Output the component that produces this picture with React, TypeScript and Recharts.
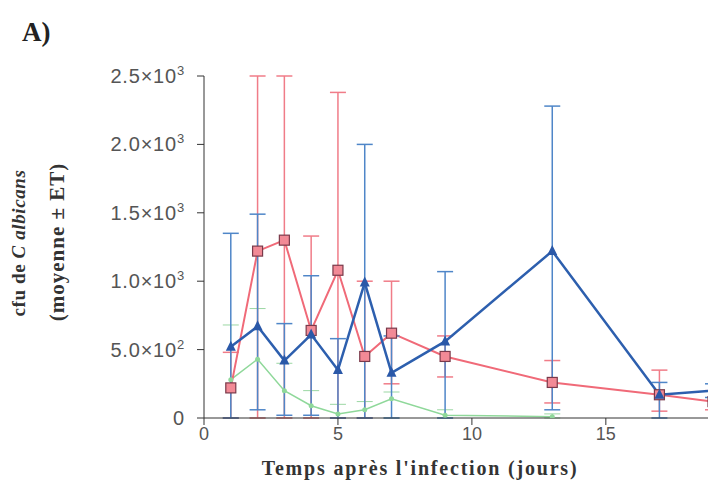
import React from 'react';
import { ComposedChart, Line, XAxis, YAxis, ErrorBar } from 'recharts';

const days = [1, 2, 3, 4, 5, 6, 7, 9, 13, 17, 19];

const red = [220, 1220, 1300, 640, 1080, 450, 620, 450, 260, 170, 120];
const redHigh = [480, 2500, 2500, 1330, 2380, 1000, 1000, 600, 420, 350, 200];
const redLow = [0, 0, 0, 0, 0, 0, 250, 300, 110, 50, 60];

const blue = [520, 670, 420, 610, 350, 990, 330, 560, 1220, 170, 200];
const blueHigh = [1350, 1490, 690, 1040, 580, 2000, 600, 1070, 2280, 260, 250];
const blueLow = [0, 60, 20, 20, 0, 0, 0, 0, 60, 0, 150];

const green = [280, 430, 200, 90, 30, 60, 140, 20, 10, null, null];
const greenHigh = [680, 800, 400, 200, 100, 120, 190, 60, 30, null, null];

const xTicks = [0, 5, 10, 15];
const yTicks = [0, 500, 1000, 1500, 2000, 2500];
const yTickLabels: Record<number, [string, string]> = {
  0: ['0', ''],
  500: ['5.0×10', '2'],
  1000: ['1.0×10', '3'],
  1500: ['1.5×10', '3'],
  2000: ['2.0×10', '3'],
  2500: ['2.5×10', '3'],
};

const rows = days.map((d, i) => ({
  day: d,
  red: red[i],
  redErr: [red[i] - redLow[i], redHigh[i] - red[i]],
  blue: blue[i],
  blueErr: [blue[i] - blueLow[i], blueHigh[i] - blue[i]],
  green: green[i],
  greenErr: green[i] == null ? [0, 0] : [green[i]!, greenHigh[i]! - green[i]!],
}));

const YTick = (props: any) => {
  const { x, y, payload } = props;
  const [base, exp] = yTickLabels[payload.value] ?? [String(payload.value), ''];
  return (
    <text
      x={x - 10}
      y={y + 7}
      textAnchor="end"
      fontFamily="Liberation Sans, Arial"
      fontSize={20}
      letterSpacing={0.8}
      fill="#555"
    >
      {base}
      {exp && (
        <tspan fontSize={13} dy={-8}>
          {exp}
        </tspan>
      )}
    </text>
  );
};

const Square = (color: string, stroke: string) => (props: any) => {
  const { cx, cy } = props;
  if (cx == null || cy == null) return <g />;
  return <rect x={cx - 5} y={cy - 5} width={10} height={10} fill={color} stroke={stroke} strokeWidth={1.2} />;
};

const Triangle = (color: string) => (props: any) => {
  const { cx, cy } = props;
  if (cx == null || cy == null) return <g />;
  return <polygon points={`${cx},${cy - 6} ${cx - 5},${cy + 4} ${cx + 5},${cy + 4}`} fill={color} />;
};

const Dot = (color: string) => (props: any) => {
  const { cx, cy } = props;
  if (cx == null || cy == null) return <g />;
  return <circle cx={cx} cy={cy} r={2.5} fill={color} />;
};

export default function App() {
  return (
    <div style={{ position: 'absolute', left: 0, top: 0, width: 708, height: 487, overflow: 'hidden', background: '#fff' }}>
      <ComposedChart
        width={713}
        height={487}
        data={rows}
        margin={{ top: 76, right: 0, bottom: 39, left: 0 }}
      >
        <XAxis
          dataKey="day"
          type="number"
          domain={[0, 19]}
          ticks={xTicks}
          allowDataOverflow
          height={30}
          stroke="#333"
          tickLine={{ stroke: '#333' }}
          tickSize={7}
          tick={{ fontFamily: 'Liberation Sans, Arial', fontSize: 18, fill: '#555' }}
        />
        <YAxis
          type="number"
          domain={[0, 2500]}
          ticks={yTicks}
          allowDataOverflow
          width={204}
          stroke="#333"
          tickSize={7}
          tick={<YTick />}
        />
        <Line
          dataKey="green"
          stroke="#8fd89a"
          strokeWidth={1.5}
          dot={Dot('#8fd89a')}
          isAnimationActive={false}
          connectNulls={false}
        >
          <ErrorBar dataKey="greenErr" stroke="#9bd7a3" strokeWidth={1} width={8} direction="y" />
        </Line>
        <Line
          dataKey="red"
          stroke="#f06a78"
          strokeWidth={2}
          dot={Square('#f28a96', '#7a3a4a')}
          isAnimationActive={false}
        >
          <ErrorBar dataKey="redErr" stroke="#f07c88" strokeWidth={1.5} width={8} direction="y" />
        </Line>
        <Line
          dataKey="blue"
          stroke="#2d5fae"
          strokeWidth={2.5}
          dot={Triangle('#2a58a8')}
          isAnimationActive={false}
        >
          <ErrorBar dataKey="blueErr" stroke="#4f86c8" strokeWidth={1.5} width={8} direction="y" />
        </Line>
        <text x={22} y={41} fontFamily="Liberation Serif, Times New Roman" fontWeight="bold" fontSize={27} fill="#222">
          A)
        </text>
        <text
          x={420}
          y={475}
          textAnchor="middle"
          fontFamily="Liberation Serif, Times New Roman"
          fontWeight="bold"
          fontSize={20}
          letterSpacing={1.8}
          fill="#333"
        >
          Temps après l'infection (jours)
        </text>
        <text
          transform="translate(25,243) rotate(-90)"
          textAnchor="middle"
          fontFamily="Liberation Serif, Times New Roman"
          fontWeight="bold"
          fontSize={19}
          letterSpacing={0.6}
          fill="#333"
        >
          cfu de <tspan fontStyle="italic">C albicans</tspan>
        </text>
        <text
          transform="translate(64,242) rotate(-90)"
          textAnchor="middle"
          fontFamily="Liberation Serif, Times New Roman"
          fontWeight="bold"
          fontSize={21}
          letterSpacing={1}
          fill="#333"
        >
          (moyenne ± ET)
        </text>
      </ComposedChart>
    </div>
  );
}
